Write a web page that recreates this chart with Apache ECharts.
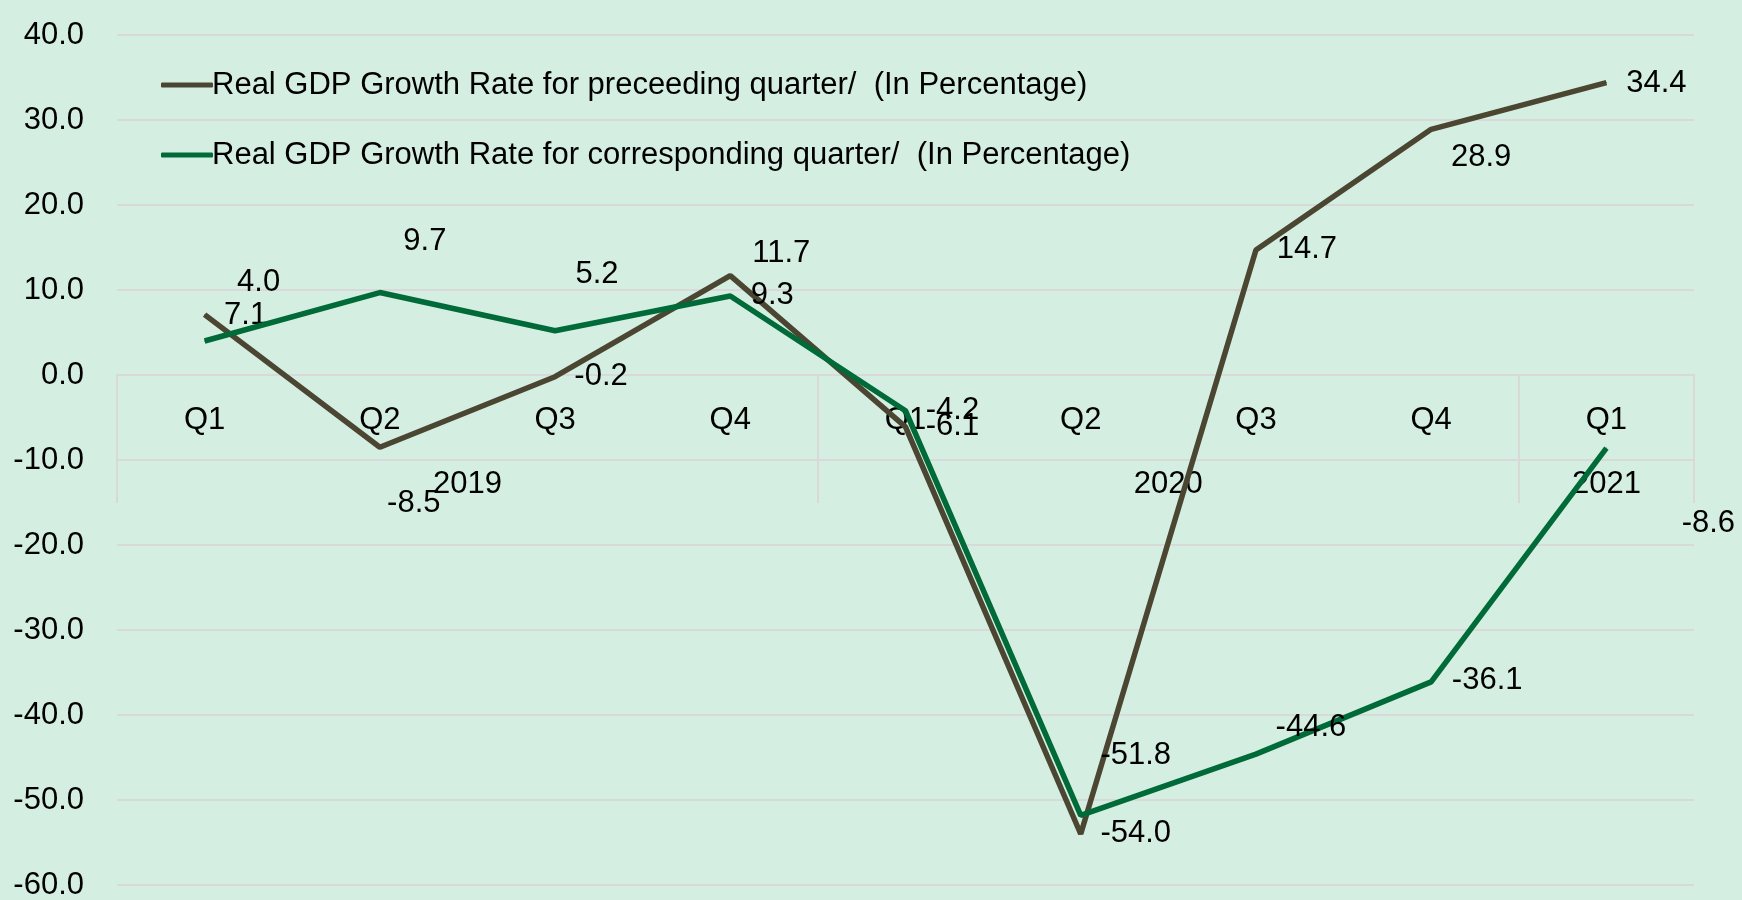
<!DOCTYPE html>
<html>
<head>
<meta charset="utf-8">
<script src="https://cdn.jsdelivr.net/npm/echarts@6/dist/echarts.min.js"></script>
<style>
  html, body { margin: 0; padding: 0; background: #D4EEE2; }
  #chart { width: 1742px; height: 900px; }
</style>
</head>
<body>
<div id="chart"></div>
<script>
// quarters and year groups (multi-level axis)
const quarters = ['Q1', 'Q2', 'Q3', 'Q4', 'Q1', 'Q2', 'Q3', 'Q4', 'Q1'];
const years = ['2019', '2020', '2021'];
const yearSizes = [4, 4, 1];

const seriesNames = [
  'Real GDP Growth Rate for preceeding quarter/  (In Percentage)',
  'Real GDP Growth Rate for corresponding quarter/  (In Percentage)'
];
const preceding = [7.1, -8.5, -0.2, 11.7, -6.1, -54.0, 14.7, 28.9, 34.4];
const corresponding = [4.0, 9.7, 5.2, 9.3, -4.2, -51.8, -44.6, -36.1, -8.6];

const yMin = -60, yMax = 40, yStep = 10;

// label offsets (px) around each point, as placed in the original
const precedingLabelOffsets = [[41, 1], [34, 56], [46, 0], [51, -22], [47, 0], [55, -1], [51, -1], [50, 28], [50, 1]];
const correspondingLabelOffsets = [[54, -59], [45, -51], [42, -56], [42, 0], [47, 0], [55, -60], [55, -27], [56, -1], [102, 75]];

const FONT = 'Liberation Sans';
const FS = 31;
const gridColor = '#D9D9D9';
const colors = ['#4B4631', '#006A38'];

const W = 1742, H = 900;
const gridTop = 35, gridBottom = 15, gridLeft = 117, gridRight = 48;
// the category axis sits on the y=0 line
const plotH = H - gridTop - gridBottom;
const zeroOffset = -plotH * (0 - yMin) / (yMax - yMin);

// year group boundaries and centres on a 0..9 value scale
const bounds = [0];
yearSizes.forEach(n => bounds.push(bounds[bounds.length - 1] + n));
const centres = years.map((y, i) => (bounds[i] + bounds[i + 1]) / 2);

const chart = echarts.init(document.getElementById('chart'));

function buildData(vals, offs) {
  return vals.map((v, i) => ({ value: v, label: { offset: offs[i] } }));
}

const option = {
  backgroundColor: '#D4EEE2',
  animation: false,
  textStyle: { fontFamily: FONT },
  grid: {
    left: gridLeft, right: gridRight, top: gridTop, bottom: gridBottom,
    containLabel: false,
    outerBoundsMode: 'none'
  },
  legend: {
    orient: 'vertical',
    left: 156,
    top: 62,
    itemWidth: 52,
    itemHeight: 5,
    itemGap: 34,
    textStyle: { fontSize: FS, color: '#000', fontFamily: FONT, padding: [0, 0, 0, -6], lineHeight: 36 },
    data: seriesNames.map(n => ({ name: n, icon: 'roundRect' }))
  },
  xAxis: [
    {
      type: 'category',
      data: quarters,
      boundaryGap: true,
      position: 'bottom',
      offset: zeroOffset,
      axisLine: { onZero: false, lineStyle: { color: gridColor, width: 2 } },
      axisTick: { show: false },
      axisLabel: { color: '#000', fontSize: FS, fontFamily: FONT, margin: 30 },
      splitLine: { show: false }
    },
    {
      type: 'value',
      min: 0,
      max: quarters.length,
      position: 'bottom',
      offset: zeroOffset,
      axisLine: { show: false, onZero: false },
      axisTick: {
        show: true,
        customValues: bounds,
        length: 128,
        lineStyle: { color: gridColor, width: 2 }
      },
      axisLabel: {
        show: true,
        customValues: centres,
        color: '#000',
        fontSize: FS,
        fontFamily: FONT,
        margin: 94,
        formatter: v => {
          const i = centres.indexOf(v);
          return i >= 0 ? years[i] : '';
        }
      },
      splitLine: { show: false }
    }
  ],
  yAxis: {
    type: 'value',
    min: yMin,
    max: yMax,
    interval: yStep,
    axisLine: { show: false, onZero: false },
    axisTick: { show: false },
    axisLabel: {
      color: '#000',
      fontSize: FS,
      fontFamily: FONT,
      margin: 33,
      formatter: v => v.toFixed(1)
    },
    splitLine: { lineStyle: { color: gridColor, width: 2 } }
  },
  series: [
    {
      name: seriesNames[0],
      type: 'line',
      xAxisIndex: 0,
      data: buildData(preceding, precedingLabelOffsets),
      symbol: 'circle',
      symbolSize: 1,
      itemStyle: { color: colors[0] },
      lineStyle: { color: colors[0], width: 5.5 },
      label: {
        show: true,
        position: 'inside',
        color: '#000',
        fontSize: FS,
        fontFamily: FONT,
        formatter: p => p.value.toFixed(1)
      },
      z: 3
    },
    {
      name: seriesNames[1],
      type: 'line',
      xAxisIndex: 0,
      data: buildData(corresponding, correspondingLabelOffsets),
      symbol: 'circle',
      symbolSize: 1,
      itemStyle: { color: colors[1] },
      lineStyle: { color: colors[1], width: 5.5 },
      label: {
        show: true,
        position: 'inside',
        color: '#000',
        fontSize: FS,
        fontFamily: FONT,
        formatter: p => p.value.toFixed(1)
      },
      z: 4
    }
  ]
};

chart.setOption(option);
window.onresize = () => chart.resize();
</script>
</body>
</html>
